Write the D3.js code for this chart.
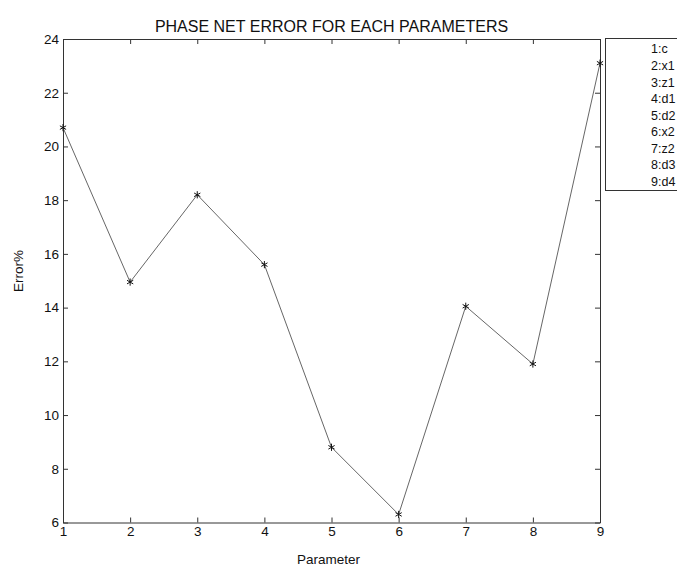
<!DOCTYPE html>
<html>
<head>
<meta charset="utf-8">
<script src="https://cdn.jsdelivr.net/npm/d3@7"></script>
<style>
  html, body { margin: 0; padding: 0; background: #fff; }
  svg { display: block; }
  text { font-family: "Liberation Sans", Arial, Helvetica, sans-serif; fill: #111; }
</style>
</head>
<body>
<svg id="chart" width="677" height="567"></svg>
<script>
// Parameter index, its name, and the phase net error (%) for each one
const parameters = [1, 2, 3, 4, 5, 6, 7, 8, 9];
const parameterNames = ["c", "x1", "z1", "d1", "d2", "x2", "z2", "d3", "d4"];
const errorPercent = [20.7, 14.95, 18.2, 15.6, 8.8, 6.3, 14.05, 11.9, 23.1];
const yTicks = [6, 8, 10, 12, 14, 16, 18, 20, 22, 24];
const xTicks = [1, 2, 3, 4, 5, 6, 7, 8, 9];

const svg = d3.select("#chart");
const plot = { left: 63, right: 600, top: 39, bottom: 522.5 };

const x = d3.scaleLinear().domain([1, 9]).range([plot.left, plot.right]);
const y = d3.scaleLinear().domain([6, 24]).range([plot.bottom, plot.top]);

const axisColor = "#333";

function styleAxis(g) {
  g.selectAll("path.domain").attr("stroke", axisColor).attr("stroke-width", 1);
  g.selectAll(".tick line").attr("stroke", axisColor).attr("stroke-width", 1);
  g.selectAll(".tick text")
    .style("font-family", '"Liberation Sans", Arial, sans-serif')
    .style("font-size", "13.5px")
    .attr("fill", "#111");
}

// Left axis with labels, ticks pointing into the box
svg.append("g")
  .attr("transform", `translate(${plot.left},0)`)
  .call(d3.axisLeft(y).tickValues(yTicks).tickSize(-5).tickSizeOuter(0).tickPadding(4))
  .call(styleAxis);

// Bottom axis with labels
svg.append("g")
  .attr("transform", `translate(0,${plot.bottom})`)
  .call(d3.axisBottom(x).tickValues(xTicks).tickSize(-5).tickSizeOuter(0).tickPadding(4))
  .call(styleAxis);

// Right and top axes close the box, ticks only
svg.append("g")
  .attr("transform", `translate(${plot.right},0)`)
  .call(d3.axisRight(y).tickValues(yTicks).tickSize(-5).tickSizeOuter(0).tickFormat(""))
  .call(styleAxis);

svg.append("g")
  .attr("transform", `translate(0,${plot.top})`)
  .call(d3.axisTop(x).tickValues(xTicks).tickSize(-5).tickSizeOuter(0).tickFormat(""))
  .call(styleAxis);

// Error line
const line = d3.line()
  .x((d, i) => x(parameters[i]))
  .y(d => y(d));

svg.append("path")
  .datum(errorPercent)
  .attr("fill", "none")
  .attr("stroke", "#555")
  .attr("stroke-width", 0.9)
  .attr("d", line);

// Asterisk markers
svg.append("g")
  .selectAll("path")
  .data(errorPercent)
  .join("path")
  .attr("transform", (d, i) => `translate(${x(parameters[i])},${y(d)})`)
  .attr("d", d3.symbol(d3.symbolAsterisk, 36))
  .attr("fill", "none")
  .attr("stroke", "#111")
  .attr("stroke-width", 1);

// Title and axis labels
svg.append("text")
  .attr("x", (plot.left + plot.right) / 2)
  .attr("y", 32)
  .attr("text-anchor", "middle")
  .style("font-size", "16px")
  .text("PHASE NET ERROR FOR EACH PARAMETERS");

svg.append("text")
  .attr("x", (plot.left + plot.right) / 2 - 3)
  .attr("y", 564)
  .attr("text-anchor", "middle")
  .style("font-size", "13.5px")
  .text("Parameter");

svg.append("text")
  .attr("transform", `translate(23,271) rotate(-90)`)
  .attr("text-anchor", "middle")
  .style("font-size", "13.5px")
  .text("Error%");

// Legend listing the parameter names
const legend = svg.append("g");
legend.append("rect")
  .attr("x", 605.5)
  .attr("y", 38.5)
  .attr("width", 90)
  .attr("height", 152)
  .attr("fill", "#fff")
  .attr("stroke", axisColor)
  .attr("stroke-width", 1);

const legendY = d3.scalePoint().domain(parameters).range([49, 181.5]);
legend.selectAll("text")
  .data(parameters)
  .join("text")
  .attr("x", 651)
  .attr("y", d => legendY(d))
  .attr("dy", "0.35em")
  .style("font-size", "12.5px")
  .text((d, i) => `${d}:${parameterNames[i]}`);
</script>
</body>
</html>
